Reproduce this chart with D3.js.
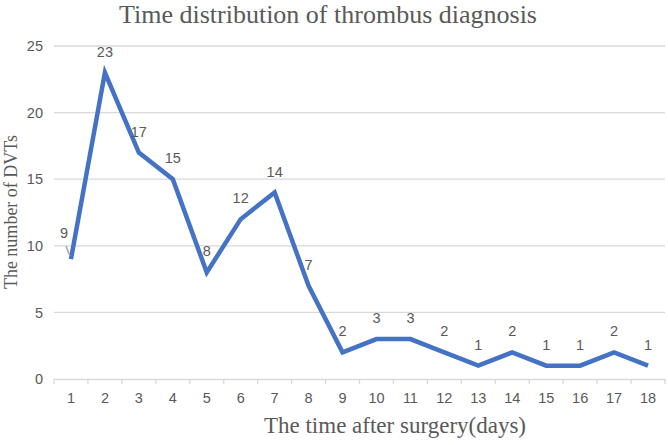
<!DOCTYPE html>
<html>
<head>
<meta charset="utf-8">
<script src="https://cdn.jsdelivr.net/npm/d3@7"></script>
<style>
  body { margin: 0; background: #fff; }
</style>
</head>
<body>
<svg id="chart" width="668" height="445"></svg>
<script>
const days = ['1','2','3','4','5','6','7','8','9','10','11','12','13','14','15','16','17','18'];
const dvtCounts = [9, 23, 17, 15, 8, 12, 14, 7, 2, 3, 3, 2, 1, 2, 1, 1, 2, 1];
const yTicks = [0, 5, 10, 15, 20, 25];

const svg = d3.select('#chart');
const margin = { top: 46, right: 3, bottom: 66, left: 54 };
const width = 668 - margin.left - margin.right;
const height = 445 - margin.top - margin.bottom;

const numFont = '"Liberation Sans Narrow", "Arial Narrow", "Liberation Sans", sans-serif';
const serif = '"Liberation Serif", "Times New Roman", serif';
const grey = '#595959';

const x = d3.scaleBand().domain(days).range([0, width]);
const y = d3.scaleLinear().domain([0, 25]).range([height, 0]);

const g = svg.append('g')
  .attr('transform', `translate(${margin.left},${margin.top})`);

// gridlines
g.append('g')
  .selectAll('line')
  .data(yTicks.filter(d => d > 0))
  .enter()
  .append('line')
  .attr('x1', 0)
  .attr('x2', width)
  .attr('y1', d => y(d))
  .attr('y2', d => y(d))
  .attr('stroke', '#d9d9d9')
  .attr('stroke-width', 1.3);

// y axis labels
const yAxis = g.append('g')
  .call(d3.axisLeft(y).tickValues(yTicks).tickSize(0).tickPadding(11));
yAxis.select('.domain').remove();
yAxis.selectAll('text')
  .attr('fill', grey)
  .style('font-family', numFont)
  .style('font-size', '14.5px');

// x axis
const xAxis = g.append('g')
  .attr('transform', `translate(0,${height})`)
  .call(d3.axisBottom(x).tickSize(0).tickPadding(14));
xAxis.select('.domain')
  .attr('stroke', '#d9d9d9')
  .attr('stroke-width', 1.3);
xAxis.selectAll('text')
  .attr('fill', grey)
  .style('font-family', numFont)
  .style('font-size', '14.5px');

// small tick marks at category boundaries
g.append('g')
  .selectAll('line')
  .data(days.concat(['end']))
  .enter()
  .append('line')
  .attr('x1', (d, i) => i * x.step())
  .attr('x2', (d, i) => i * x.step())
  .attr('y1', height)
  .attr('y2', height + 5)
  .attr('stroke', '#d9d9d9')
  .attr('stroke-width', 1.3);

const pts = days.map((d, i) => ({ day: d, value: dvtCounts[i] }));

const line = d3.line()
  .x(d => x(d.day) + x.bandwidth() / 2)
  .y(d => y(d.value));

g.append('path')
  .datum(pts)
  .attr('fill', 'none')
  .attr('stroke', '#4472C4')
  .attr('stroke-width', 4.5)
  .attr('stroke-linejoin', 'miter')
  .attr('d', line);

// data labels
g.selectAll('.lbl')
  .data(pts)
  .enter()
  .append('text')
  .attr('class', 'lbl')
  .attr('x', (d, i) => x(d.day) + x.bandwidth() / 2 + (i === 0 ? -7 : 0))
  .attr('y', (d, i) => y(d.value) - (i === 0 ? 21 : 16))
  .attr('text-anchor', 'middle')
  .attr('fill', grey)
  .style('font-family', numFont)
  .style('font-size', '14.5px')
  .text(d => d.value);

// leader line for the first label
const p0 = pts[0];
g.append('line')
  .attr('x1', x(p0.day) + x.bandwidth() / 2 - 5)
  .attr('y1', y(p0.value) - 13)
  .attr('x2', x(p0.day) + x.bandwidth() / 2 - 1)
  .attr('y2', y(p0.value) - 3)
  .attr('stroke', '#a6a6a6')
  .attr('stroke-width', 1.5);

// title
svg.append('text')
  .attr('x', 328)
  .attr('y', 23)
  .attr('text-anchor', 'middle')
  .attr('fill', grey)
  .style('font-family', serif)
  .style('font-size', '26px')
  .text('Time distribution of thrombus diagnosis');

// axis titles
svg.append('text')
  .attr('x', 395)
  .attr('y', 433)
  .attr('text-anchor', 'middle')
  .attr('fill', grey)
  .style('font-family', serif)
  .style('font-size', '23px')
  .text('The time after surgery(days)');

svg.append('text')
  .attr('transform', 'translate(17,212) rotate(-90)')
  .attr('text-anchor', 'middle')
  .attr('fill', grey)
  .style('font-family', serif)
  .style('font-size', '18px')
  .text('The number of DVTs');
</script>
</body>
</html>
